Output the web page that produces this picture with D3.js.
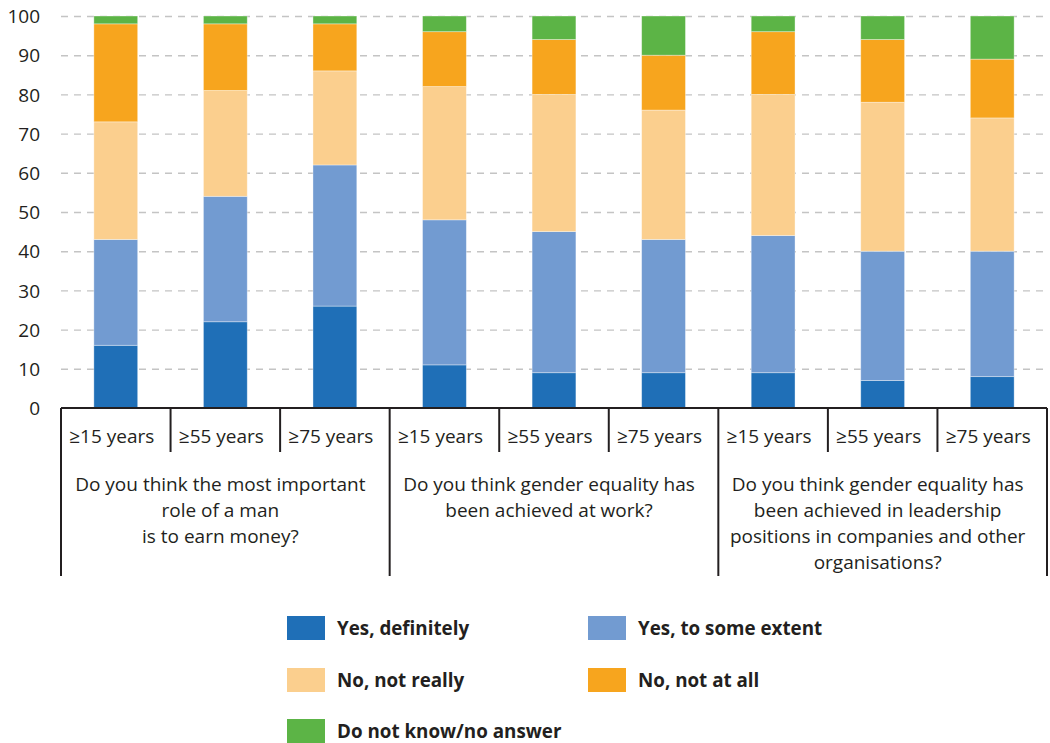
<!DOCTYPE html>
<html>
<head>
<meta charset="utf-8">
<script src="https://cdn.jsdelivr.net/npm/d3@7"></script>
<style>
  html, body { margin: 0; padding: 0; background: #fff; }
  svg { display: block; font-family: "Open Sans", "Noto Sans", sans-serif; }
</style>
</head>
<body>
<svg id="chart" width="1050" height="743"></svg>
<script>
// ---- data ----
const categories = ["q1-15", "q1-55", "q1-75", "q2-15", "q2-55", "q2-75", "q3-15", "q3-55", "q3-75"];
const ageLabels = ["≥15 years", "≥55 years", "≥75 years", "≥15 years", "≥55 years", "≥75 years", "≥15 years", "≥55 years", "≥75 years"];
const seriesNames = ["Yes, definitely", "Yes, to some extent", "No, not really", "No, not at all", "Do not know/no answer"];
const yesDefinitely   = [16, 22, 26, 11, 9, 9, 9, 7, 8];
const yesSomeExtent   = [27, 32, 36, 37, 36, 34, 35, 33, 32];
const noNotReally     = [30, 27, 24, 34, 35, 33, 36, 38, 34];
const noNotAtAll      = [25, 17, 12, 14, 14, 14, 16, 16, 15];
const doNotKnow       = [2, 2, 2, 4, 6, 10, 4, 6, 11];
const questions = [
  ["Do you think the most important", "role of a man", "is to earn money?"],
  ["Do you think gender equality has", "been achieved at work?"],
  ["Do you think gender equality has", "been achieved in leadership", "positions in companies and other", "organisations?"]
];
const yTicks = [0, 10, 20, 30, 40, 50, 60, 70, 80, 90, 100];
const colors = ["#1f6fb7", "#729bd1", "#fbcf8e", "#f7a51e", "#5cb446"];

// ---- build ----
(function () {
const svg = d3.select("#chart");
const mLeft = 61, mRight = 1047, mTop = 16, mBottom = 408;
const textColor = "#231f20";

const x = d3.scaleBand().domain(categories).range([mLeft, mRight]).paddingInner(0.6).paddingOuter(0.3);
const y = d3.scaleLinear().domain([0, 100]).range([mBottom, mTop]);

const rows = categories.map((c, i) => ({
  cat: c,
  s0: yesDefinitely[i], s1: yesSomeExtent[i], s2: noNotReally[i], s3: noNotAtAll[i], s4: doNotKnow[i]
}));
const keys = ["s0", "s1", "s2", "s3", "s4"];
const stack = d3.stack().keys(keys)(rows);

// gridlines
const grid = svg.append("g").attr("transform", `translate(${mLeft},0)`)
  .call(d3.axisLeft(y).tickValues(yTicks.filter(t => t > 0)).tickSize(-(mRight - mLeft)).tickFormat(""));
grid.select(".domain").remove();
grid.selectAll("line").attr("stroke", "#c4c4c4").attr("stroke-width", 1.4).attr("stroke-dasharray", "7,6");

// y labels
const yax = svg.append("g").attr("transform", `translate(40,0)`)
  .call(d3.axisLeft(y).tickValues(yTicks).tickSize(0).tickPadding(0));
yax.select(".domain").remove();
yax.selectAll("text").attr("font-size", 19).attr("fill", textColor)
  .attr("font-family", "'Open Sans', sans-serif").attr("dy", "0.35em");

// bars
svg.append("g").selectAll("g").data(stack).join("g")
  .attr("fill", (d, i) => colors[i])
  .selectAll("rect").data(d => d).join("rect")
  .attr("x", d => x(d.data.cat))
  .attr("width", x.bandwidth())
  .attr("y", d => y(d[1]))
  .attr("height", d => y(d[0]) - y(d[1]))
  .attr("stroke", "rgba(255,255,255,0.45)")
  .attr("stroke-width", 0.8);

// x axis line
const step = x.step();
svg.append("line").attr("x1", mLeft).attr("x2", mRight).attr("y1", mBottom).attr("y2", mBottom)
  .attr("stroke", "#231f20").attr("stroke-width", 2.2);

// separators
d3.range(0, 10).forEach(i => {
  const xx = mLeft + i * step;
  const isGroup = i % 3 === 0;
  svg.append("line").attr("x1", xx).attr("x2", xx).attr("y1", mBottom)
    .attr("y2", isGroup ? 576 : 452)
    .attr("stroke", "#231f20").attr("stroke-width", 2);
});

// age labels
svg.append("g").selectAll("text").data(categories).join("text")
  .attr("x", d => x(d) + x.bandwidth() / 2 - 4)
  .attr("y", 443)
  .attr("text-anchor", "middle")
  .attr("font-size", 19)
  .attr("fill", textColor)
  .text((d, i) => ageLabels[i]);

// question texts
questions.forEach((lines, g) => {
  const cx = mLeft + (g * 3 + 1.5) * step - 5;
  const t = svg.append("text").attr("text-anchor", "middle").attr("font-size", 19).attr("fill", textColor);
  lines.forEach((ln, j) => {
    t.append("tspan").attr("x", cx).attr("y", 491 + j * 26).text(ln);
  });
});

// legend
const legendPos = [[287, 628], [588, 628], [287, 680], [588, 680], [287, 731]];
const lg = svg.append("g").selectAll("g").data(seriesNames).join("g")
  .attr("transform", (d, i) => `translate(${legendPos[i][0]},${legendPos[i][1]})`);
lg.append("rect").attr("x", 0).attr("y", -12).attr("width", 38).attr("height", 24)
  .attr("fill", (d, i) => colors[i]);
lg.append("text").attr("x", 50).attr("y", 0).attr("dy", "0.35em")
  .attr("font-size", 18.8).attr("font-weight", "bold").attr("fill", textColor)
  .text(d => d);
})();
</script>
</body>
</html>
